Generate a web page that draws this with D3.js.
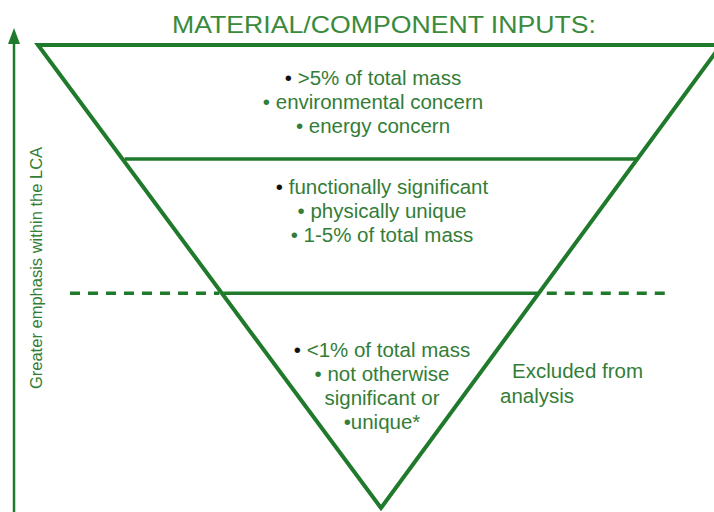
<!DOCTYPE html>
<html>
<head>
<meta charset="utf-8">
<script src="https://cdn.jsdelivr.net/npm/d3@7"></script>
<style>
  body { margin: 0; background: #fff; }
  svg { display: block; }
  text { font-family: "Liberation Sans", Arial, sans-serif; }
</style>
</head>
<body>
<div id="vis"></div>
<script>
// data
var title = "MATERIAL/COMPONENT INPUTS:";
var axisLabel = "Greater emphasis within the LCA";
var tierDepths = [0, 0.246, 0.536, 1];          // top, solid divider, cut-off (dashed), apex
var tierTextDepths = [0.086, 0.322, 0.674];     // where each text block begins
var tierTexts = [
  [">5% of total mass", "environmental concern", "energy concern"],
  ["functionally significant", "physically unique", "1-5% of total mass"],
  ["<1% of total mass", "not otherwise", "significant or", "unique*"]
];
var tierBullets = [
  ["• ", "• ", "• "],
  ["• ", "• ", "• "],
  ["• ", "• ", "", "•"]
];
var excludedText = ["Excluded from", "analysis"];

var chart = {};
chart.fullWidth = 714;
chart.fullHeight = 512;
chart.lineColor = "#1f7a2b";
chart.textColor = "#337d37";
chart.cx = 381;
chart.textShift = [-8, 1, 1];   // text blocks are not quite centred in the original

// depth down the funnel -> y, depth -> half width of the funnel
chart.y = d3.scaleLinear().domain([0, 1]).range([45, 508]);
chart.w = d3.scaleLinear().domain([0, 1]).range([340, 0]);

var svg = d3.select("#vis").append("svg")
  .attr("width", chart.fullWidth)
  .attr("height", chart.fullHeight);

// title
svg.append("text")
  .attr("x", 384)
  .attr("y", 33)
  .attr("text-anchor", "middle")
  .attr("font-size", 24)
  .attr("textLength", 424)
  .attr("lengthAdjust", "spacingAndGlyphs")
  .attr("fill", "#3a8a3c")
  .text(title);

// the funnel outline
var apex = [chart.cx, chart.y(1)];
svg.append("path")
  .attr("d", "M" + (chart.cx - chart.w(0) - 3) + "," + chart.y(0) +
             "L" + (chart.cx + chart.w(0)) + "," + chart.y(0) +
             "L" + apex[0] + "," + apex[1] + "Z")
  .attr("fill", "none")
  .attr("stroke", chart.lineColor)
  .attr("stroke-width", 4)
  .attr("stroke-linejoin", "miter");

// solid divider
var d1 = tierDepths[1];
svg.append("line")
  .attr("x1", chart.cx - chart.w(d1)).attr("x2", chart.cx + chart.w(d1))
  .attr("y1", chart.y(d1)).attr("y2", chart.y(d1))
  .attr("stroke", chart.lineColor).attr("stroke-width", 3.5);

// cut-off line: solid inside, dashed outside
var d2 = tierDepths[2];
svg.append("line")
  .attr("x1", chart.cx - chart.w(d2)).attr("x2", chart.cx + chart.w(d2))
  .attr("y1", chart.y(d2)).attr("y2", chart.y(d2))
  .attr("stroke", chart.lineColor).attr("stroke-width", 3.5);

[[70, chart.cx - chart.w(d2) - 4], [chart.cx + chart.w(d2) + 8, 665]].forEach(function(seg) {
  svg.append("line")
    .attr("x1", seg[0]).attr("x2", seg[1])
    .attr("y1", chart.y(d2)).attr("y2", chart.y(d2))
    .attr("stroke", chart.lineColor).attr("stroke-width", 3.5)
    .attr("stroke-dasharray", "10,8");
});

// the text in each tier
tierTexts.forEach(function(lines, t) {
  var top = chart.y(tierTextDepths[t]);
  lines.forEach(function(line, k) {
    var txt = svg.append("text")
      .attr("x", chart.cx + chart.textShift[t])
      .attr("y", top + k * 24)
      .attr("text-anchor", "middle")
      .attr("font-size", 20.5)
      .attr("fill", chart.textColor);
    txt.append("tspan")
      .attr("fill", k == 0 ? "#111" : chart.textColor)
      .text(tierBullets[t][k]);
    txt.append("tspan").text(line);
  });
});

// excluded note
excludedText.forEach(function(line, k) {
  svg.append("text")
    .attr("x", k == 0 ? 512 : 500)
    .attr("y", 378 + k * 25)
    .attr("font-size", 20.5)
    .attr("fill", chart.textColor)
    .text(line);
});

// emphasis arrow on the left
svg.append("line")
  .attr("x1", 14).attr("x2", 14)
  .attr("y1", 512).attr("y2", 40)
  .attr("stroke", chart.lineColor).attr("stroke-width", 2.5);
svg.append("path")
  .attr("d", "M14,28L8,44L20,44Z")
  .attr("fill", chart.lineColor);

svg.append("text")
  .attr("transform", "translate(42,268) rotate(-90)")
  .attr("text-anchor", "middle")
  .attr("font-size", 16.5)
  .attr("fill", chart.textColor)
  .text(axisLabel);
</script>
</body>
</html>
